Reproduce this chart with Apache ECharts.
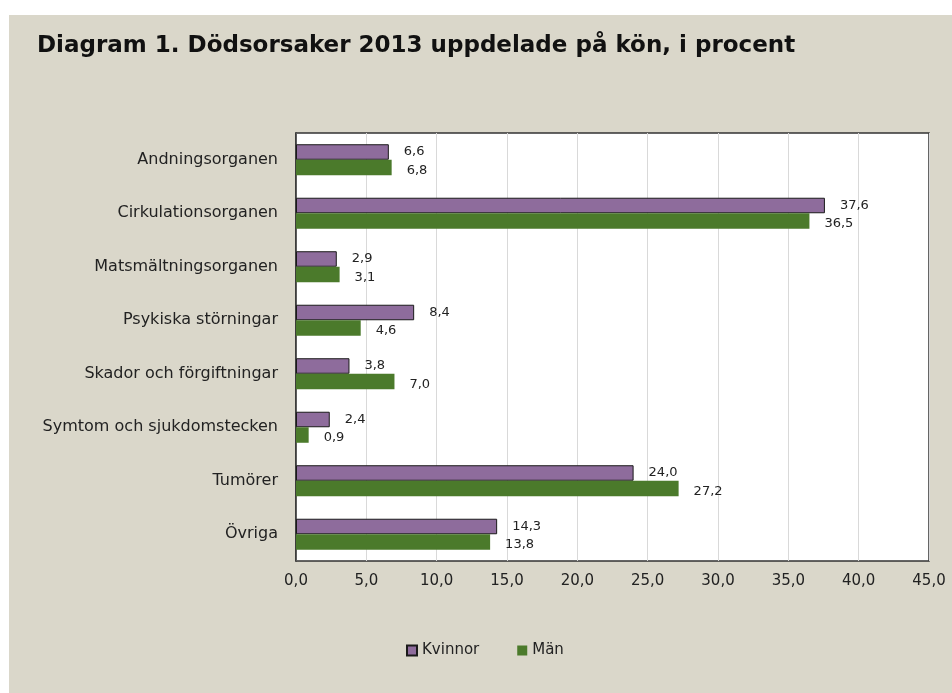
<!DOCTYPE html>
<html>
<head>
<meta charset="utf-8">
<script src="https://cdn.jsdelivr.net/npm/echarts@6/dist/echarts.min.js"></script>
<style>
html,body{margin:0;padding:0;background:#fff;}
#chart{width:952px;height:693px;}
</style>
</head>
<body>
<div id="chart"></div>
<script>
/* Dödsorsaker 2013, andel i procent */
var categories = ['Andningsorganen', 'Cirkulationsorganen', 'Matsmältningsorganen', 'Psykiska störningar',
    'Skador och förgiftningar', 'Symtom och sjukdomstecken', 'Tumörer', 'Övriga'];
var kvinnor = [6.6, 37.6, 2.9, 8.4, 3.8, 2.4, 24.0, 14.3];
var man = [6.8, 36.5, 3.1, 4.6, 7.0, 0.9, 27.2, 13.8];

var fontFam = 'DejaVu Sans';
function komma(v){ return Number(v).toFixed(1).replace('.', ','); }

var myChart = echarts.init(document.getElementById('chart'));
var option = {
    backgroundColor: '#fff',
    animation: false,
    graphic: [{
        type: 'rect', z: -100, silent: true,
        shape: {x: 9, y: 15, width: 960, height: 700},
        style: {fill: '#DAD7CA'}
    }],
    title: {
        text: 'Diagram 1. Dödsorsaker 2013 uppdelade på kön, i procent',
        left: 32, top: 30,
        textStyle: {fontFamily: fontFam, fontSize: 23, fontWeight: 'bold', color: '#111'}
    },
    legend: {
        left: 401, top: 638,
        itemWidth: 10, itemHeight: 10, itemGap: 38,
        textStyle: {fontFamily: fontFam, fontSize: 15, color: '#222'},
        data: [
            {name: 'Kvinnor', icon: 'rect'},
            {name: 'Män', icon: 'rect'}
        ]
    },
    grid: {
        left: 296, right: 23, top: 133, bottom: 132,
        show: true, backgroundColor: '#fff', borderColor: '#333', borderWidth: 1.5
    },
    xAxis: {
        type: 'value', min: 0, max: 45, interval: 5,
        axisLine: {show: false},
        axisTick: {show: false},
        axisLabel: {formatter: komma, fontFamily: fontFam, fontSize: 15, color: '#222', margin: 13},
        splitLine: {lineStyle: {color: '#D9D9D9', width: 1}}
    },
    yAxis: {
        type: 'category', data: categories, inverse: true,
        axisLine: {lineStyle: {color: '#333', width: 1.5}},
        axisTick: {inside: true, length: 4, lineStyle: {color: '#333'}},
        axisLabel: {fontFamily: fontFam, fontSize: 16, color: '#222', margin: 18}
    },
    series: [
        {
            name: 'Kvinnor', type: 'bar', data: kvinnor,
            barGap: '0%', barCategoryGap: '42%',
            itemStyle: {color: '#8E6C9C', borderColor: '#1a1a1a', borderWidth: 1},
            label: {show: true, position: 'right', distance: 15, formatter: function(p){ return komma(p.value); },
                fontFamily: fontFam, fontSize: 13, color: '#222'}
        },
        {
            name: 'Män', type: 'bar', data: man,
            itemStyle: {color: '#4B7A2B'},
            label: {show: true, position: 'right', distance: 15, offset: [0, 3], formatter: function(p){ return komma(p.value); },
                fontFamily: fontFam, fontSize: 13, color: '#222'}
        }
    ]
};
myChart.setOption(option);
window.addEventListener('resize', myChart.resize);
</script>
</body>
</html>
